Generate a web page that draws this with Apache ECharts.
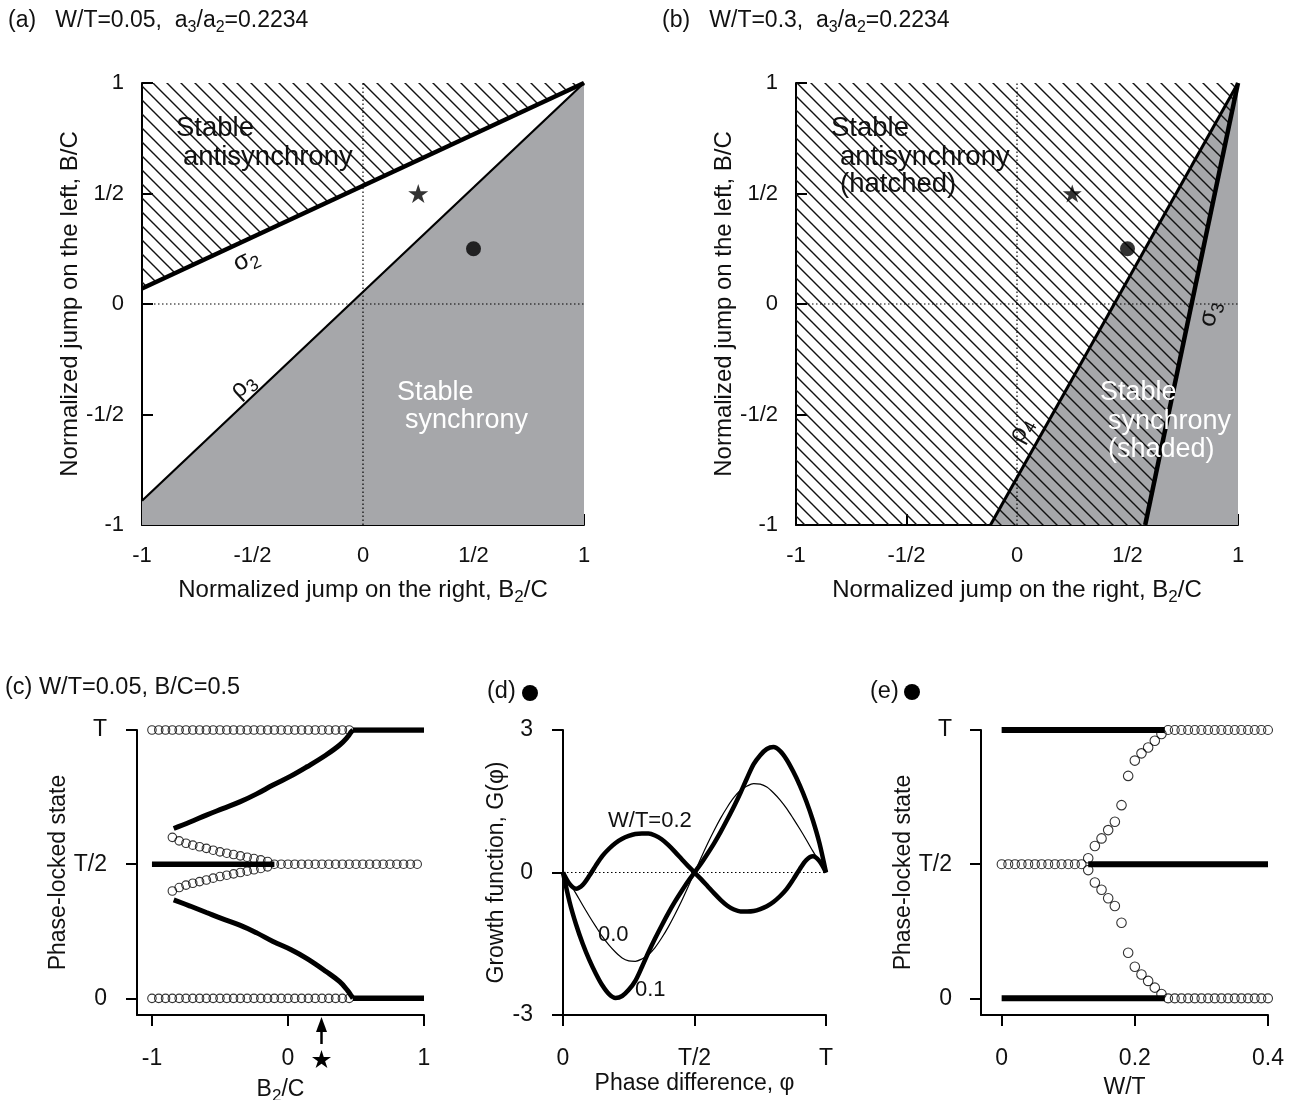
<!DOCTYPE html>
<html>
<head>
<meta charset="utf-8">
<title>Phase-locked states</title>
<script src="https://cdn.jsdelivr.net/npm/echarts@6.0.0/dist/echarts.min.js"></script>
<style>
  html, body { margin: 0; padding: 0; background: #fff; }
  #chart { width: 1292px; height: 1100px; }
</style>
</head>
<body>
<div id="chart"></div>
<script>
// ---- (a), (b): regions in the (B2/C, B/C) plane ----
const fracValues = [-1, -0.5, 0, 0.5, 1]
const fracLabels = ['-1', '-1/2', '0', '1/2', '1']
const sigma2 = [[-1, 0.07], [1, 1]]    // (a) antisynchrony boundary
const rho3 = [[-1, -0.89], [1, 1]]     // (a) synchrony boundary
const rho4 = [[-0.12, -1], [1, 1]]     // (b) synchrony boundary
const sigma3 = [[0.58, -1], [1, 1]]    // (b) antisynchrony boundary
const zeroH = [[-1, 0], [1, 0]]
const zeroV = [[0, -1], [0, 1]]
const starPoint = [[0.25, 0.5]]
const dotPoint = [[0.5, 0.25]]

// ---- (c): W/T=0.05, B/C=0.5, phase in units of T ----
const phaseValues = [0, 0.5, 1]
const phaseLabels = ['0', 'T/2', 'T']
const cTicks = [-1, 0, 1]
const cRowX = [-1, -0.95, -0.9, -0.85, -0.8, -0.75, -0.7, -0.65, -0.6, -0.55, -0.5, -0.45, -0.4, -0.35, -0.3,
  -0.25, -0.2, -0.15, -0.1, -0.05, 0, 0.05, 0.1, 0.15, 0.2, 0.25, 0.3, 0.35, 0.4, 0.45]
const cMidX = [-0.1, -0.05, 0, 0.05, 0.1, 0.15, 0.2, 0.25, 0.3, 0.35, 0.4, 0.45, 0.5, 0.55, 0.6, 0.65, 0.7,
  0.75, 0.8, 0.85, 0.9, 0.95]
const cBranchX = [-0.85, -0.8, -0.75, -0.7, -0.65, -0.6, -0.55, -0.5, -0.45, -0.4, -0.35, -0.3, -0.25, -0.2, -0.15]
const cBranchUp = [0.600, 0.587, 0.578, 0.571, 0.565, 0.559, 0.552, 0.546, 0.541, 0.536, 0.531, 0.526, 0.521, 0.516, 0.510]
const cBranchDown = [0.400, 0.413, 0.422, 0.429, 0.435, 0.441, 0.448, 0.454, 0.459, 0.464, 0.469, 0.474, 0.479, 0.484, 0.490]
const cStableX = [-0.84, -0.72, -0.6, -0.48, -0.35, -0.23, -0.11, 0.02, 0.14, 0.28, 0.38, 0.44, 0.465, 0.478]
const cStableUp = [0.633, 0.657, 0.683, 0.707, 0.733, 0.762, 0.795, 0.828, 0.863, 0.907, 0.944, 0.975, 0.993, 1.0]
const cStableDown = [0.367, 0.344, 0.32, 0.296, 0.272, 0.244, 0.212, 0.182, 0.148, 0.1, 0.062, 0.028, 0.01, 0]
const cMidLineX = [-1, -0.1]
const cEdgeLineX = [0.478, 1]

// ---- (d): growth function G(phi), phi in units of T ----
const gTicks = [-3, 0, 3]
const dX = [0, 0.025, 0.05, 0.075, 0.1, 0.125, 0.15, 0.175, 0.2, 0.225, 0.25, 0.275, 0.3, 0.325, 0.35, 0.375,
  0.4, 0.425, 0.45, 0.475, 0.5, 0.525, 0.55, 0.575, 0.6, 0.625, 0.65, 0.675, 0.7, 0.725, 0.75, 0.775, 0.8,
  0.825, 0.85, 0.875, 0.9, 0.925, 0.95, 0.975, 1]
const gW00 = [0, -0.22, -0.45, -0.69, -0.92, -1.14, -1.35, -1.53, -1.68, -1.8, -1.86, -1.87, -1.82, -1.73, -1.58,
  -1.38, -1.15, -0.89, -0.61, -0.31, 0, 0.31, 0.61, 0.89, 1.15, 1.38, 1.58, 1.73, 1.82, 1.87, 1.86, 1.8, 1.68,
  1.53, 1.35, 1.14, 0.92, 0.69, 0.45, 0.22, 0]
const gW01 = [0, -0.62, -1.1, -1.5, -1.84, -2.13, -2.38, -2.56, -2.64, -2.6, -2.47, -2.28, -1.99, -1.68, -1.39,
  -1.12, -0.86, -0.62, -0.4, -0.19, 0, 0.19, 0.4, 0.62, 0.86, 1.12, 1.39, 1.68, 1.99, 2.28, 2.47, 2.6, 2.64,
  2.56, 2.38, 2.13, 1.84, 1.5, 1.1, 0.62, 0]
const gW02 = [0, -0.24, -0.34, -0.26, -0.07, 0.15, 0.35, 0.5, 0.62, 0.71, 0.77, 0.81, 0.82, 0.82, 0.78, 0.7,
  0.58, 0.44, 0.29, 0.14, 0, -0.14, -0.29, -0.44, -0.58, -0.7, -0.78, -0.82, -0.82, -0.81, -0.77, -0.71,
  -0.62, -0.5, -0.35, -0.15, 0.07, 0.26, 0.34, 0.24, 0]
const dZero = [[0, 0], [1, 0]]

// ---- (e): phase-locked state vs W/T ----
const eTicks = [0, 0.2, 0.4]
const eMidX = [0, 0.01, 0.02, 0.03, 0.04, 0.05, 0.06, 0.07, 0.08, 0.09, 0.1, 0.11, 0.12]
const eBranchX = [0.13, 0.14, 0.15, 0.16, 0.17, 0.18, 0.19, 0.2, 0.21, 0.22, 0.23, 0.24]
const eBranchUp = [0.522, 0.568, 0.596, 0.627, 0.658, 0.72, 0.829, 0.886, 0.913, 0.935, 0.96, 0.985]
const eBranchDown = [0.478, 0.432, 0.405, 0.373, 0.344, 0.282, 0.17, 0.118, 0.089, 0.065, 0.04, 0.016]
const eRowX = [0.25, 0.26, 0.27, 0.28, 0.29, 0.3, 0.31, 0.32, 0.33, 0.34, 0.35, 0.36, 0.37, 0.38, 0.39, 0.4]
const eEdgeLineX = [0, 0.245]
const eMidLineX = [0.13, 0.4]

const FONT = '"Liberation Sans", Arial, Helvetica, sans-serif'
const TXT = '#111'
const GRAY = '#a6a7aa'
const STAR = 'M0,-10L2.25,-3.09L9.51,-3.09L3.63,1.18L5.88,8.09L0,3.82L-5.88,8.09L-3.63,1.18L-9.51,-3.09L-2.25,-3.09Z'

const pairs = (xs, ys) => xs.map((x, i) => [x, ys[i]])
const level = (xs, y) => xs.map(x => [x, y])
const fracFmt = v => fracLabels[fracValues.indexOf(v)]
const phaseFmt = v => phaseLabels[phaseValues.indexOf(v)]

function subRich (size, fill) {
  return { sub: { fontSize: size, fontFamily: FONT, color: fill || TXT, fill: fill || TXT, padding: [Math.round(size * 0.8), 0, 0, 0] } }
}

// diagonal hatch tile
function hatchPattern () {
  const s = 14
  const c = document.createElement('canvas')
  c.width = s
  c.height = s
  const g = c.getContext('2d')
  g.strokeStyle = '#111'
  g.lineWidth = 1.4
  g.beginPath()
  g.moveTo(-2, -2); g.lineTo(s + 2, s + 2)
  g.moveTo(-2, s - 2); g.lineTo(2, s + 2)
  g.moveTo(s - 2, -2); g.lineTo(s + 2, 2)
  g.stroke()
  return { image: c, repeat: 'repeat' }
}
const HATCH = hatchPattern()

// star outline as pixel points (for the marker under panel c)
function starPoints (cx, cy, r) {
  const pts = []
  for (let i = 0; i < 10; i++) {
    const a = -Math.PI / 2 + i * Math.PI / 5
    const rr = i % 2 ? r * 0.382 : r
    pts.push([cx + rr * Math.cos(a), cy + rr * Math.sin(a)])
  }
  return pts
}

function axis (o) {
  return {
    type: 'value',
    gridIndex: o.grid,
    min: o.min,
    max: o.max,
    name: o.name,
    nameLocation: 'middle',
    nameGap: o.nameGap,
    nameTextStyle: { fontFamily: FONT, fontSize: o.nameSize || o.size, color: TXT, rich: subRich(17) },
    axisLine: { show: true, onZero: false, lineStyle: { color: '#000', width: 2 } },
    axisTick: { show: true, inside: !!o.inside, length: 11, customValues: o.ticks, lineStyle: { color: '#000', width: 2 } },
    axisLabel: {
      show: true, margin: o.margin, customValues: o.ticks, formatter: o.fmt,
      fontFamily: FONT, fontSize: o.size, color: TXT, showMinLabel: true, showMaxLabel: true
    },
    splitLine: { show: false }
  }
}

function poly (grid, points, fill, z) {
  return {
    type: 'custom', xAxisIndex: grid, yAxisIndex: grid, z, silent: true, clip: true,
    data: [[0, 0]],
    renderItem: (params, api) => ({
      type: 'polygon',
      shape: { points: points.map(p => api.coord(p)) },
      style: { fill, stroke: null }
    })
  }
}

function line (grid, data, width, z, extra) {
  return Object.assign({
    type: 'line', xAxisIndex: grid, yAxisIndex: grid, data, z,
    symbol: 'none', showSymbol: false, silent: true,
    lineStyle: { color: '#000', width }
  }, extra || {})
}

function dotted (grid, data) {
  return line(grid, data, 1, 3, { lineStyle: { color: '#000', width: 1.2, type: [1.5, 2.5] } })
}

function rings (grid, data, size) {
  return {
    type: 'scatter', xAxisIndex: grid, yAxisIndex: grid, data, z: 5, silent: true,
    symbol: 'circle', symbolSize: size,
    itemStyle: { color: 'rgba(0,0,0,0)', borderColor: '#000', borderWidth: 1.1 }
  }
}

function mark (grid, data, symbol, size) {
  return {
    type: 'scatter', xAxisIndex: grid, yAxisIndex: grid, data, z: 6, silent: true,
    symbol, symbolSize: size, symbolKeepAspect: true, itemStyle: { color: '#000' }
  }
}

function txt (text, x, y, o) {
  o = o || {}
  return {
    type: 'text', x, y, z: 100, silent: true,
    rotation: (o.rot || 0) * Math.PI / 180,
    style: {
      text, fill: o.fill || TXT, fontSize: o.size || 22, fontFamily: FONT,
      align: o.align || 'left', verticalAlign: 'middle',
      rich: subRich(o.sub || 16, o.fill)
    }
  }
}

const series = [
  // (a)
  poly(0, [rho3[0], rho3[1], [1, -1], [-1, -1]], GRAY, 1),
  poly(0, [sigma2[0], sigma2[1], [-1, 1]], HATCH, 2),
  dotted(0, zeroH),
  dotted(0, zeroV),
  line(0, sigma2, 4.5, 4),
  line(0, rho3, 2.2, 4),
  mark(0, starPoint, 'path://' + STAR, 20),
  mark(0, dotPoint, 'circle', 15),
  // (b)
  poly(1, [rho4[0], rho4[1], [1, -1]], GRAY, 1),
  poly(1, [[-1, -1], sigma3[0], sigma3[1], [-1, 1]], HATCH, 2),
  dotted(1, zeroH),
  dotted(1, zeroV),
  line(1, rho4, 3, 4),
  line(1, sigma3, 4.5, 4),
  mark(1, starPoint, 'path://' + STAR, 19),
  mark(1, dotPoint, 'circle', 15),
  // (c)
  line(2, level(cMidLineX, 0.5), 5.5, 4),
  line(2, level(cEdgeLineX, 1), 5.5, 4),
  line(2, level(cEdgeLineX, 0), 5.5, 4),
  line(2, pairs(cStableX, cStableUp), 5, 4, { smooth: 0.4 }),
  line(2, pairs(cStableX, cStableDown), 5, 4, { smooth: 0.4 }),
  rings(2, level(cRowX, 1), 8.5),
  rings(2, level(cRowX, 0), 8.5),
  rings(2, level(cMidX, 0.5), 8.5),
  rings(2, pairs(cBranchX, cBranchUp), 8.5),
  rings(2, pairs(cBranchX, cBranchDown), 8.5),
  // (d)
  dotted(3, dZero),
  line(3, pairs(dX, gW00), 1.2, 4, { smooth: 0.3 }),
  line(3, pairs(dX, gW01), 4.5, 4, { smooth: 0.3 }),
  line(3, pairs(dX, gW02), 4.5, 4, { smooth: 0.3 }),
  // (e)
  line(4, level(eEdgeLineX, 1), 6, 4),
  line(4, level(eEdgeLineX, 0), 6, 4),
  line(4, level(eMidLineX, 0.5), 6, 4),
  rings(4, level(eMidX, 0.5), 9),
  rings(4, level(eRowX, 1), 9),
  rings(4, level(eRowX, 0), 9),
  rings(4, pairs(eBranchX, eBranchUp), 9.5),
  rings(4, pairs(eBranchX, eBranchDown), 9.5)
]

const topName = 'Normalized jump on the right, B{sub|2}/C'
const leftName = 'Normalized jump on the left, B/C'

const option = {
  animation: false,
  backgroundColor: '#fff',
  textStyle: { fontFamily: FONT },
  grid: [
    { left: 142, top: 83, width: 442, height: 442, containLabel: false, outerBoundsMode: 'none' },
    { left: 796, top: 83, width: 442, height: 442, containLabel: false, outerBoundsMode: 'none' },
    { left: 137, top: 730, width: 287, height: 285, containLabel: false, outerBoundsMode: 'none' },
    { left: 563, top: 730, width: 263, height: 285, containLabel: false, outerBoundsMode: 'none' },
    { left: 981, top: 730, width: 287, height: 285, containLabel: false, outerBoundsMode: 'none' }
  ],
  xAxis: [
    axis({ grid: 0, min: -1, max: 1, ticks: fracValues, fmt: fracFmt, inside: true, margin: 20, size: 22, nameSize: 24, name: topName, nameGap: 50 }),
    axis({ grid: 1, min: -1, max: 1, ticks: fracValues, fmt: fracFmt, inside: true, margin: 20, size: 22, nameSize: 24, name: topName, nameGap: 50 }),
    axis({ grid: 2, min: -1.11, max: 1, ticks: cTicks, fmt: String, margin: 32, size: 23, name: 'B{sub|2}/C', nameGap: 59 }),
    axis({ grid: 3, min: 0, max: 1, ticks: phaseValues, fmt: phaseFmt, margin: 32, size: 23, name: 'Phase difference, φ', nameGap: 57 }),
    axis({ grid: 4, min: -0.031, max: 0.4, ticks: eTicks, fmt: String, margin: 32, size: 23, name: 'W/T', nameGap: 61 })
  ],
  yAxis: [
    axis({ grid: 0, min: -1, max: 1, ticks: fracValues, fmt: fracFmt, inside: true, margin: 18, size: 22, nameSize: 24, name: leftName, nameGap: 49 }),
    axis({ grid: 1, min: -1, max: 1, ticks: fracValues, fmt: fracFmt, inside: true, margin: 18, size: 22, nameSize: 24, name: leftName, nameGap: 49 }),
    axis({ grid: 2, min: -0.062, max: 1, ticks: phaseValues, fmt: phaseFmt, margin: 30, size: 23, name: 'Phase-locked state', nameGap: 66 }),
    axis({ grid: 3, min: -3, max: 3, ticks: gTicks, fmt: String, margin: 30, size: 23, name: 'Growth function, G(φ)', nameGap: 48 }),
    axis({ grid: 4, min: -0.062, max: 1, ticks: phaseValues, fmt: phaseFmt, margin: 29, size: 23, name: 'Phase-locked state', nameGap: 65 })
  ],
  series,
  graphic: [
    // panel titles
    txt('(a)   W/T=0.05,  a{sub|3}/a{sub|2}=0.2234', 8, 21, { size: 23 }),
    txt('(b)   W/T=0.3,  a{sub|3}/a{sub|2}=0.2234', 662, 21, { size: 23 }),
    txt('(c) W/T=0.05, B/C=0.5', 5, 688, { size: 23.5 }),
    txt('(d)', 487, 692, { size: 23.5 }),
    txt('(e)', 870, 692, { size: 23.5 }),
    { type: 'circle', shape: { cx: 530, cy: 693, r: 8 }, style: { fill: '#000' }, silent: true },
    { type: 'circle', shape: { cx: 912, cy: 692, r: 8 }, style: { fill: '#000' }, silent: true },
    // (a) notes
    txt('Stable', 176, 128, { size: 27.5 }),
    txt('antisynchrony', 183, 157, { size: 27.5 }),
    txt('σ{sub|2}', 246, 260, { size: 25, sub: 18, rot: 25, align: 'center' }),
    txt('ρ{sub|3}', 243, 386, { size: 25, sub: 18, rot: 43, align: 'center' }),
    txt('Stable', 397, 393, { size: 27, fill: '#fff' }),
    txt('synchrony', 405, 421, { size: 27, fill: '#fff' }),
    // (b) notes
    txt('Stable', 831, 128, { size: 27.5 }),
    txt('antisynchrony', 840, 157, { size: 27.5 }),
    txt('(hatched)', 840, 184, { size: 27.5 }),
    txt('ρ{sub|4}', 1021, 430, { size: 25, sub: 18, rot: 61, align: 'center' }),
    txt('σ{sub|3}', 1210, 314, { size: 25, sub: 18, rot: 76, align: 'center' }),
    txt('Stable', 1100, 393, { size: 27, fill: '#fff' }),
    txt('synchrony', 1108, 422, { size: 27, fill: '#fff' }),
    txt('(shaded)', 1108, 450, { size: 27, fill: '#fff' }),
    // (d) curve labels
    txt('W/T=0.2', 608, 821, { size: 22 }),
    txt('0.0', 598, 935, { size: 22 }),
    txt('0.1', 635, 990, { size: 22 }),
    // (c) arrow and star under the axis
    { type: 'line', shape: { x1: 321.5, y1: 1044, x2: 321.5, y2: 1028 }, style: { stroke: '#000', lineWidth: 2.5 }, silent: true },
    { type: 'polygon', shape: { points: [[321.5, 1017], [316, 1032], [327, 1032]] }, style: { fill: '#000' }, silent: true },
    { type: 'polygon', shape: { points: starPoints(321.5, 1060, 10) }, style: { fill: '#000' }, silent: true }
  ]
}

const chart = echarts.init(document.getElementById('chart'))
chart.setOption(option)
</script>
</body>
</html>
